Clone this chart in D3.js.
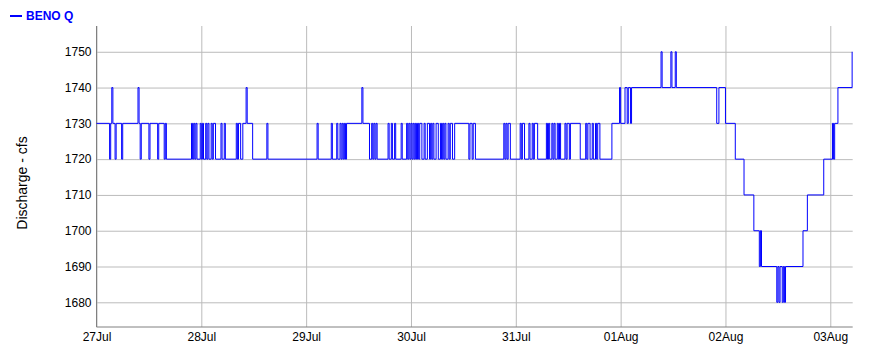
<!DOCTYPE html>
<html>
<head>
    <title>BENO Q</title>
    <script src="https://d3js.org/d3.v7.min.js"></script>
    <style>
        body { margin: 0; background: #fff; }
        svg { display: block; font-family: Arial, 'Liberation Sans', sans-serif; }
        .grid line { stroke: #bbbbbb; stroke-width: 1; }
        .grid path { display: none; }
        .grid text { fill: #000; font-size: 12px; }
    </style>
</head>
<body>
<div id="chart"></div>
<script>
    // series: discharge readings, hours counted from 27 Jul 00:00 (value holds until the next reading)
    const seriesName = 'BENO Q';
    const startDate = Date.UTC(2023, 6, 27);
    const endHour = 173.13;

    const hours = [
        0, 3, 3.25, 3.5, 3.75, 4.25, 4.5, 5.75, 6, 9.5, 9.75, 10, 10.25, 12, 12.25, 14, 14.25, 15.5, 15.75, 16,
        21.75, 22, 22.25, 22.5, 22.75, 23, 23.75, 24, 24.25, 24.5, 25, 25.25, 25.5, 25.75, 26.25, 26.5, 26.75, 27.25, 28.5, 28.75,
        29.25, 29.5, 32, 32.25, 32.5, 33, 33.5, 34.25, 34.5, 35.75, 39, 39.25, 50.5, 50.75, 53.75, 54, 55, 55.25, 55.75, 56,
        56.25, 56.5, 56.75, 57, 57.25, 60.75, 61, 62.5, 63, 63.25, 63.5, 63.75, 64, 64.25, 66.75, 67, 67.5, 67.75, 68.25, 68.5,
        69.75, 70, 71, 71.25, 71.5, 71.75, 72, 72.25, 72.5, 72.75, 73, 73.25, 73.5, 73.75, 74, 74.5, 75, 75.25, 75.75, 76.25,
        76.5, 76.75, 77, 77.25, 77.75, 78.25, 78.75, 79, 79.25, 79.5, 79.75, 80, 80.5, 80.75, 81, 81.5, 82, 85.25, 85.5, 86,
        86.25, 86.75, 93.25, 93.5, 93.75, 94, 94.25, 94.75, 97, 97.25, 97.5, 98, 99, 99.25, 99.75, 100, 100.25, 101, 103, 103.25,
        103.5, 103.75, 104.25, 104.5, 104.75, 105, 105.5, 105.75, 106, 106.25, 107.25, 107.5, 107.75, 108.25, 108.5, 110.75, 112, 112.25, 112.5, 113,
        113.5, 113.75, 114.25, 114.5, 114.75, 115.25, 118, 119.75, 120, 121, 121.5, 121.75, 122.25, 122.5, 129.25, 129.5, 131.5, 131.75, 132.5, 132.75,
        142, 142.5, 144, 146.25, 148.25, 150.5, 151.75, 152, 152.25, 155.75, 156, 156.25, 156.5, 157, 157.25, 157.5, 157.75, 161.75, 162.75, 166.5,
        168.5, 168.75, 169, 169.75, 173
    ];
    const cfs = [
        1730, 1720, 1730, 1740, 1730, 1720, 1730, 1720, 1730, 1740, 1730, 1720, 1730, 1720, 1730, 1720, 1730, 1720, 1730, 1720,
        1730, 1720, 1730, 1720, 1730, 1720, 1730, 1720, 1730, 1720, 1730, 1720, 1730, 1720, 1730, 1720, 1730, 1720, 1730, 1720,
        1730, 1720, 1730, 1720, 1730, 1720, 1730, 1740, 1730, 1720, 1730, 1720, 1730, 1720, 1730, 1720, 1730, 1720, 1730, 1720,
        1730, 1720, 1730, 1720, 1730, 1740, 1730, 1720, 1730, 1720, 1730, 1720, 1730, 1720, 1730, 1720, 1730, 1720, 1730, 1720,
        1730, 1720, 1730, 1720, 1730, 1720, 1730, 1720, 1730, 1720, 1730, 1720, 1730, 1720, 1730, 1720, 1730, 1720, 1730, 1720,
        1730, 1720, 1730, 1720, 1730, 1720, 1730, 1720, 1730, 1720, 1730, 1720, 1730, 1720, 1730, 1720, 1730, 1720, 1730, 1720,
        1730, 1720, 1730, 1720, 1730, 1720, 1730, 1720, 1730, 1720, 1730, 1720, 1730, 1720, 1730, 1720, 1730, 1720, 1730, 1720,
        1730, 1720, 1730, 1720, 1730, 1720, 1730, 1720, 1730, 1720, 1730, 1720, 1730, 1720, 1730, 1720, 1730, 1720, 1730, 1720,
        1730, 1720, 1730, 1720, 1730, 1720, 1730, 1740, 1730, 1740, 1730, 1740, 1730, 1740, 1750, 1740, 1750, 1740, 1750, 1740,
        1730, 1740, 1730, 1720, 1710, 1700, 1690, 1700, 1690, 1680, 1690, 1680, 1690, 1680, 1690, 1680, 1690, 1700, 1710, 1720,
        1730, 1720, 1730, 1740, 1750
    ];

    const yTicks = [1680, 1690, 1700, 1710, 1720, 1730, 1740, 1750];
    const yDomain = [1673.1, 1757.2];
    const yTitle = 'Discharge - cfs';

    const data = hours.map((h, i) => ({ date: new Date(startDate + h * 3600e3), value: cfs[i] }));

    const width = 869;
    const height = 351;
    const margin = { top: 26, right: 16.3, bottom: 24, left: 96.5 };
    const plotW = width - margin.left - margin.right;
    const plotH = height - margin.top - margin.bottom;

    const svg = d3.select('#chart')
        .append('svg')
        .attr('width', width)
        .attr('height', height);

    const x = d3.scaleUtc()
        .domain([new Date(startDate), new Date(startDate + endHour * 3600e3)])
        .range([margin.left, width - margin.right]);

    const y = d3.scaleLinear()
        .domain(yDomain)
        .range([height - margin.bottom, margin.top]);

    // vertical grid + day labels
    svg.append('g')
        .attr('class', 'grid')
        .attr('transform', `translate(0,${height - margin.bottom})`)
        .call(d3.axisBottom(x)
            .ticks(d3.utcDay.every(1))
            .tickFormat(d3.utcFormat('%d%b'))
            .tickSize(-plotH)
            .tickSizeOuter(0)
            .tickPadding(5.5));

    // horizontal grid + values
    svg.append('g')
        .attr('class', 'grid')
        .attr('transform', `translate(${margin.left},0)`)
        .call(d3.axisLeft(y)
            .tickValues(yTicks)
            .tickFormat(d3.format('d'))
            .tickSize(-plotW)
            .tickSizeOuter(0)
            .tickPadding(5));

    // axis lines
    svg.append('line')
        .attr('x1', margin.left).attr('x2', margin.left)
        .attr('y1', margin.top).attr('y2', height - margin.bottom)
        .attr('stroke', '#808080');
    svg.append('line')
        .attr('x1', margin.left).attr('x2', width - margin.right)
        .attr('y1', height - margin.bottom).attr('y2', height - margin.bottom)
        .attr('stroke', '#808080');

    const line = d3.line()
        .curve(d3.curveStepAfter)
        .x(d => x(d.date))
        .y(d => y(d.value));

    svg.append('path')
        .datum(data)
        .attr('fill', 'none')
        .attr('stroke', '#0000ff')
        .attr('stroke-width', 1)
        .attr('d', line);

    // y title
    svg.append('text')
        .attr('transform', `translate(27,183) rotate(-90)`)
        .attr('text-anchor', 'middle')
        .style('font-size', '14px')
        .attr('fill', '#000')
        .text(yTitle);

    // legend
    svg.append('line')
        .attr('x1', 10).attr('x2', 22)
        .attr('y1', 16).attr('y2', 16)
        .attr('stroke', '#0000ff')
        .attr('stroke-width', 2);
    svg.append('text')
        .attr('x', 26)
        .attr('y', 20)
        .style('font-size', '12px')
        .style('font-weight', 'bold')
        .attr('fill', '#0000ff')
        .text(seriesName);
</script>
</body>
</html>
